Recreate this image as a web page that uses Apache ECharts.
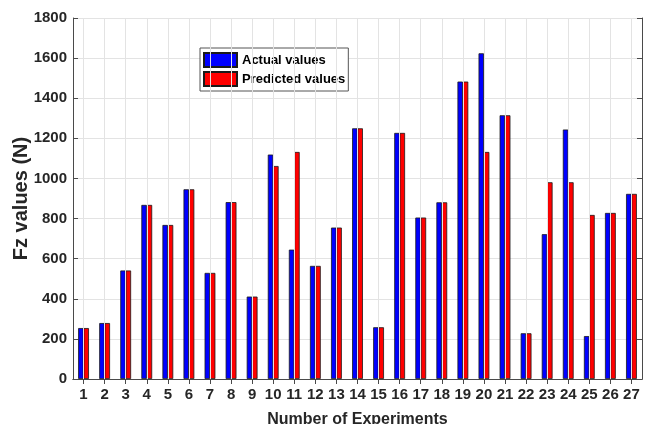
<!DOCTYPE html>
<html>
<head>
<meta charset="utf-8">
<script src="https://cdn.jsdelivr.net/npm/echarts@6/dist/echarts.min.js"></script>
<style>
html,body{margin:0;padding:0;background:#fff;}
#chart{width:646px;height:424px;}
</style>
</head>
<body>
<div id="chart"></div>
<script>
const categories = ['1','2','3','4','5','6','7','8','9','10','11','12','13','14','15','16','17','18','19','20','21','22','23','24','25','26','27'];
const actualValues = [254,279,541,868,768,946,529,882,411,1119,645,564,755,1250,258,1227,805,881,1483,1624,1315,228,722,1244,214,828,923];
const predictedValues = [254,279,541,868,768,946,529,882,411,1062,1132,564,755,1250,258,1227,805,881,1483,1132,1315,228,981,981,818,828,923];
const yMin = 0, yMax = 1800, yInterval = 200;
const seriesNames = ['Actual values','Predicted values'];

const FONT = '"Liberation Sans", Arial, Helvetica, sans-serif';
const AXIS_COLOR = '#4a4a4a';
const TEXT_COLOR = '#262626';

const chart = echarts.init(document.getElementById('chart'), null, {renderer:'canvas'});
const option = {
  animation: false,
  backgroundColor: '#fff',
  grid: {left: 73, right: 4, top: 18, bottom: 45, containLabel: false, outerBoundsMode: 'none'},
  legend: {
    orient: 'vertical',
    left: 200, top: 48,
    data: seriesNames,
    icon: 'rect',
    itemWidth: 33, itemHeight: 14, itemGap: 3,
    padding: [4, 3, 4, 3],
    borderColor: '#555', borderWidth: 1,
    backgroundColor: '#fff',
    textStyle: {fontFamily: FONT, fontWeight: 'bold', fontSize: 13, color: '#000'}
  },
  xAxis: [{
    type: 'category', data: categories, position: 'bottom',
    name: 'Number of Experiments', nameLocation: 'middle', nameGap: 33,
    nameTextStyle: {fontFamily: FONT, fontWeight: 'bold', fontSize: 16, color: TEXT_COLOR},
    axisLine: {show: true, lineStyle: {color: AXIS_COLOR, width: 1}},
    axisTick: {show: true, inside: true, alignWithLabel: true, length: 5, lineStyle: {color: AXIS_COLOR}},
    axisLabel: {fontFamily: FONT, fontWeight: 'bold', fontSize: 15, color: TEXT_COLOR, margin: 8, interval: 0},
    splitLine: {show: false}
  }, {
    type: 'category', data: categories, position: 'top',
    axisLine: {show: true, lineStyle: {color: AXIS_COLOR, width: 1}},
    axisTick: {show: true, inside: true, alignWithLabel: true, length: 5, lineStyle: {color: AXIS_COLOR}},
    axisLabel: {show: false},
    splitLine: {show: false}
  }],
  yAxis: [{
    type: 'value', min: yMin, max: yMax, interval: yInterval, position: 'left',
    name: 'Fz values (N)', nameLocation: 'middle', nameGap: 42, nameMoveOverlap: false,
    nameTextStyle: {fontFamily: FONT, fontWeight: 'bold', fontSize: 20, color: TEXT_COLOR},
    axisLine: {show: true, lineStyle: {color: AXIS_COLOR, width: 1}},
    axisTick: {show: true, inside: true, length: 5, lineStyle: {color: AXIS_COLOR}},
    axisLabel: {fontFamily: FONT, fontWeight: 'bold', fontSize: 15, color: TEXT_COLOR, margin: 6,
      formatter: v => String(v)},
    splitLine: {show: true, lineStyle: {color: '#e3e3e3', width: 1}}
  }, {
    type: 'value', min: yMin, max: yMax, interval: yInterval, position: 'right',
    axisLine: {show: true, lineStyle: {color: AXIS_COLOR, width: 1}},
    axisTick: {show: true, inside: true, length: 5, lineStyle: {color: AXIS_COLOR}},
    axisLabel: {show: false},
    splitLine: {show: false}
  }],
  series: [
    {
      type: 'line', data: [], xAxisIndex: 0, yAxisIndex: 0, silent: true, z: 1,
      markLine: {
        silent: true, symbol: ['none','none'], label: {show: false},
        lineStyle: {color: '#e3e3e3', width: 1, type: 'solid'},
        data: categories.map(c => ({xAxis: c}))
      }
    },
    {
      name: seriesNames[0], type: 'bar', data: actualValues, xAxisIndex: 0, yAxisIndex: 0,
      barWidth: 5.4, barGap: '0%', z: 3,
      itemStyle: {color: '#0000ff', borderColor: '#1a1a1a', borderWidth: 0.8}
    },
    {
      name: seriesNames[1], type: 'bar', data: predictedValues, xAxisIndex: 0, yAxisIndex: 0,
      barWidth: 5.4, barGap: '0%', z: 3,
      itemStyle: {color: '#ff0000', borderColor: '#1a1a1a', borderWidth: 0.8}
    }
  ]
};
chart.setOption(option);
</script>
</body>
</html>
